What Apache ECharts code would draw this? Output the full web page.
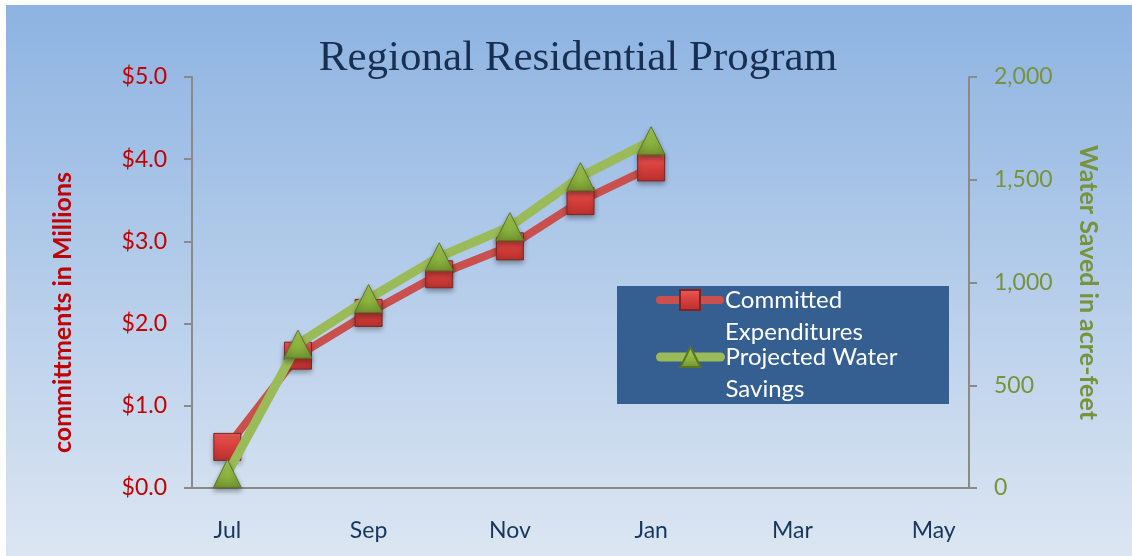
<!DOCTYPE html>
<html>
<head>
<meta charset="utf-8">
<script src="https://cdn.jsdelivr.net/npm/echarts@6/dist/echarts.min.js"></script>
<style>
html,body{margin:0;padding:0;background:#fff;}
#chart{width:1132px;height:556px;}
</style>
</head>
<body>
<div id="chart"></div>
<script>
const months = ['Jul','Aug','Sep','Oct','Nov','Dec','Jan','Feb','Mar','Apr','May'];
const committedExpenditures = [0.50, 1.61, 2.13, 2.60, 2.94, 3.49, 3.90];
const projectedWaterSavings = [70, 700, 922, 1125, 1272, 1515, 1690];
const seriesNames = ['Committed Expenditures', 'Projected Water Savings'];
const legendLabels = {'Committed Expenditures': 'Committed\nExpenditures', 'Projected Water Savings': 'Projected Water\nSavings'};
const titleText = 'Regional Residential Program';
const leftAxisName = 'committments in Millions';
const rightAxisName = 'Water Saved in acre-feet';

const chart = echarts.init(document.getElementById('chart'), null, {renderer: 'canvas'});
const FONT = 'Lato';
const legendText = {color: '#ffffff', fontFamily: FONT, fontSize: 24, lineHeight: 32};
const option = {
  animation: false,
  graphic: [
    {type: 'rect', z: -10, silent: true,
      shape: {x: 6, y: 5, width: 1126, height: 551},
      style: {fill: new echarts.graphic.LinearGradient(0, 0, 0, 1, [
        {offset: 0, color: '#8DB3E2'}, {offset: 1, color: '#DCE6F2'}])}},
    {type: 'rect', z: -5, silent: true,
      shape: {x: 617, y: 286, width: 332, height: 118},
      style: {fill: '#365F91'}}
  ],
  title: {
    text: titleText, left: 573, top: 32, textAlign: 'center',
    textStyle: {fontFamily: 'Liberation Serif', fontSize: 43, fontWeight: 'normal', color: '#182F52'}
  },
  legend: [
    {data: [seriesNames[0]], left: 656, top: 252, orient: 'vertical', padding: 0,
      itemWidth: 60, itemHeight: 25, formatter: n => '\n' + legendLabels[n], textStyle: legendText,
      lineStyle: {width: 8, cap: 'round'}},
    {data: [seriesNames[1]], left: 656, top: 309, orient: 'vertical', padding: 0,
      itemWidth: 60, itemHeight: 25, formatter: n => '\n' + legendLabels[n], textStyle: legendText,
      lineStyle: {width: 9, cap: 'round'}}
  ],
  grid: {left: 192, right: 163, top: 77, bottom: 68, containLabel: false},
  xAxis: {
    type: 'category', data: months, boundaryGap: true,
    axisLine: {lineStyle: {color: '#8A8A8A', width: 2}},
    axisTick: {interval: 0, length: 8, lineStyle: {color: '#8A8A8A', width: 2}},
    axisLabel: {interval: 1, margin: 31, fontFamily: FONT, fontSize: 23, color: '#17365D'},
    splitLine: {show: false}
  },
  yAxis: [
    {type: 'value', min: 0, max: 5, interval: 1, position: 'left',
      name: leftAxisName, nameLocation: 'middle', nameGap: 117,
      nameTextStyle: {fontFamily: FONT, fontSize: 25, fontWeight: 'bold', color: '#C00000', padding: [0, 60, 0, 0]},
      axisLine: {show: true, lineStyle: {color: '#8A8A8A', width: 2}},
      axisTick: {show: true, length: 8, lineStyle: {color: '#8A8A8A', width: 2}},
      axisLabel: {margin: 25, fontFamily: FONT, fontSize: 23, color: '#C00000',
        formatter: v => '$' + v.toFixed(1)},
      splitLine: {show: false}},
    {type: 'value', min: 0, max: 2000, interval: 500, position: 'right',
      name: rightAxisName, nameLocation: 'middle', nameGap: 107, nameRotate: -90,
      nameTextStyle: {fontFamily: FONT, fontSize: 25, fontWeight: 'bold', color: '#77933C'},
      axisLine: {show: true, lineStyle: {color: '#8A8A8A', width: 2}},
      axisTick: {show: true, length: 8, lineStyle: {color: '#8A8A8A', width: 2}},
      axisLabel: {margin: 25, fontFamily: FONT, fontSize: 23, color: '#77933C',
        formatter: v => v.toLocaleString('en-US')},
      splitLine: {show: false}}
  ],
  series: [
    {name: seriesNames[0], type: 'line', yAxisIndex: 0, data: committedExpenditures,
      symbol: 'rect', symbolSize: 27,
      lineStyle: {color: '#C9504D', width: 8, cap: 'round', join: 'round'},
      itemStyle: {
        color: new echarts.graphic.LinearGradient(0, 0, 0, 1, [
          {offset: 0, color: '#EE5A56'}, {offset: 0.5, color: '#D63F3B'}, {offset: 1, color: '#B8302D'}]),
        borderColor: '#7E2523', borderWidth: 1,
        shadowBlur: 5, shadowColor: 'rgba(0,0,0,0.35)', shadowOffsetY: 3
      },
      z: 2},
    {name: seriesNames[1], type: 'line', yAxisIndex: 1, data: projectedWaterSavings,
      symbol: 'triangle', symbolSize: [28, 28],
      lineStyle: {color: '#9BBB59', width: 9, cap: 'round', join: 'round'},
      itemStyle: {
        color: new echarts.graphic.LinearGradient(0, 0, 0, 1, [
          {offset: 0, color: '#A6CB55'}, {offset: 0.6, color: '#8DB43E'}, {offset: 1, color: '#6F9230'}]),
        borderColor: '#5A7624', borderWidth: 1,
        shadowBlur: 5, shadowColor: 'rgba(0,0,0,0.35)', shadowOffsetY: 3
      },
      z: 3}
  ]
};
chart.setOption(option);
</script>
</body>
</html>
